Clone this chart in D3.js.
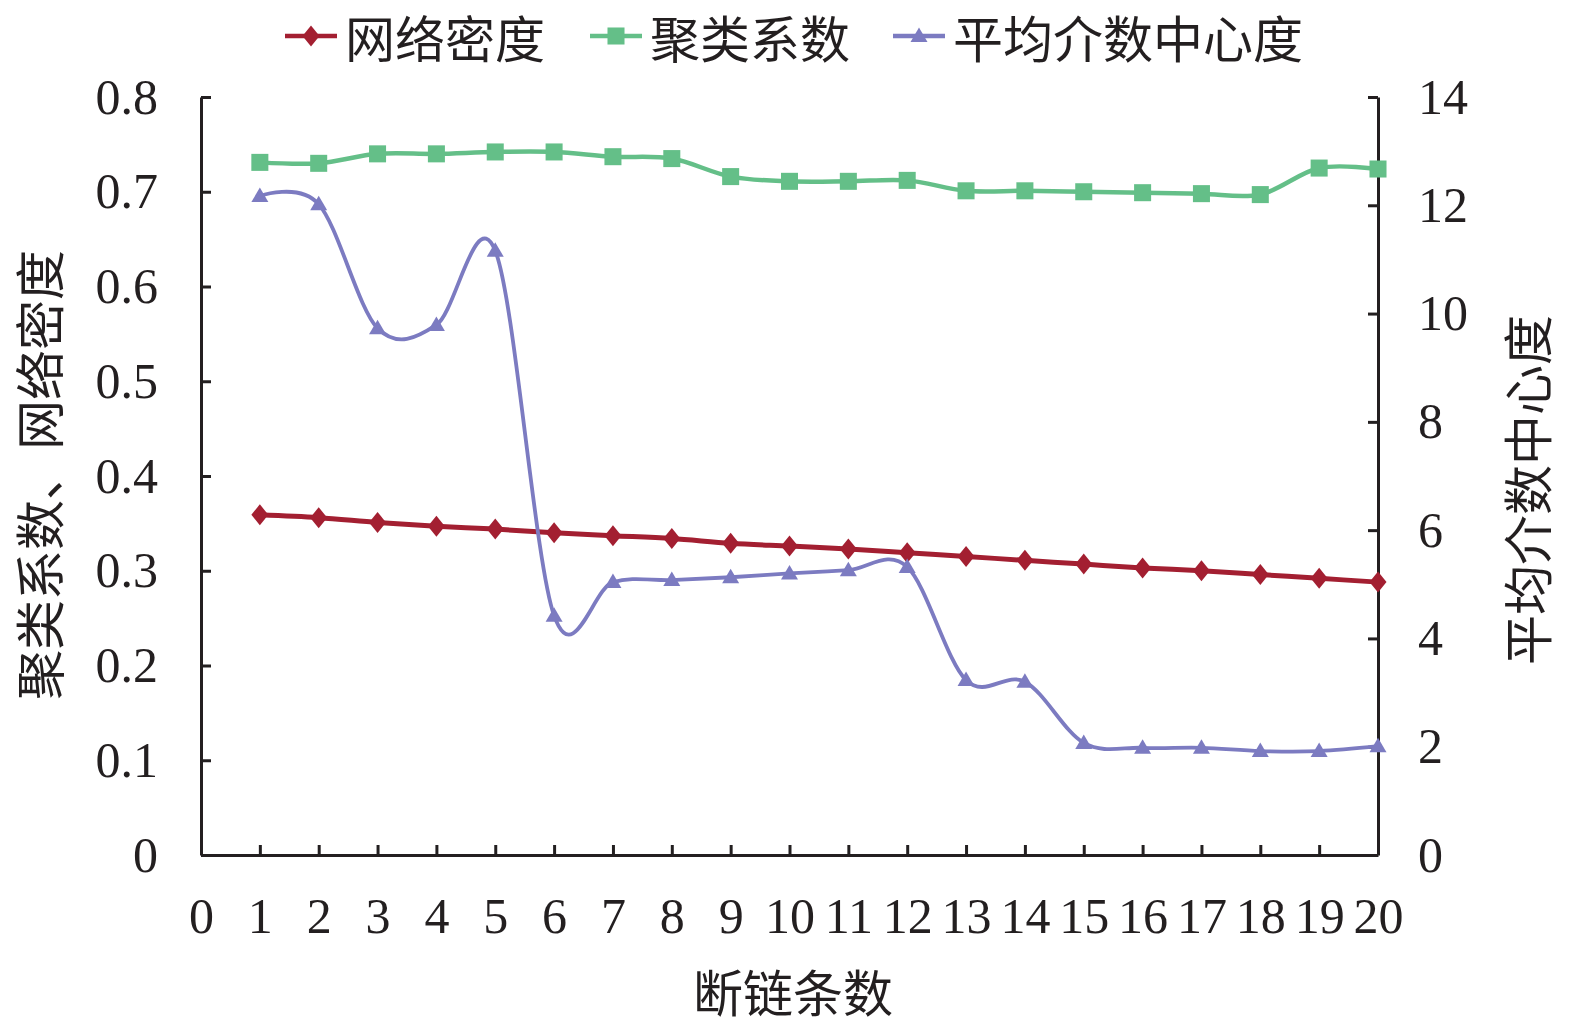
<!DOCTYPE html>
<html><head><meta charset="utf-8">
<script src="https://cdn.jsdelivr.net/npm/d3@7"></script>
<style>
body{margin:0;background:#fff;}
text{font-family:"Liberation Serif","Times New Roman","Noto Sans CJK SC",serif;fill:#231f20;}
.cjk{font-family:"Noto Sans CJK SC",sans-serif;}
</style></head>
<body>
<svg id="c" width="1575" height="1025"></svg>
<script>
const xValues = [1,2,3,4,5,6,7,8,9,10,11,12,13,14,15,16,17,18,19,20];
const density = [0.359,0.356,0.351,0.347,0.344,0.340,0.337,0.334,0.329,0.326,0.323,0.319,0.315,0.311,0.307,0.303,0.300,0.296,0.292,0.288];
const clustering = [0.731,0.730,0.740,0.740,0.742,0.742,0.737,0.735,0.716,0.711,0.711,0.712,0.701,0.701,0.700,0.699,0.698,0.697,0.725,0.724];
const betweenness = [12.17,12.02,9.73,9.79,11.16,4.42,5.04,5.08,5.13,5.20,5.26,5.32,3.23,3.20,2.07,1.98,1.98,1.92,1.92,2.01];
const xTicks = d3.range(0,21);
const leftTicks = [0,0.1,0.2,0.3,0.4,0.5,0.6,0.7,0.8];
const rightTicks = [0,2,4,6,8,10,12,14];
const seriesNames = ["网络密度","聚类系数","平均介数中心度"];
const colors = ["#a31f31","#64bf88","#7c7bc1"];

const svg = d3.select("#c");
const L=201, R=1378, T=97, B=855;
const x = d3.scaleLinear().domain([0,20]).range([L,R]);
const yL = d3.scaleLinear().domain([0,0.8]).range([B,T]);
const yR = d3.scaleLinear().domain([0,14]).range([B,T]);
const fs = 50;

function styleAxis(g){
  g.select(".domain").attr("stroke","#231f20").attr("stroke-width",3);
  g.selectAll(".tick line").attr("stroke","#231f20").attr("stroke-width",3);
  g.selectAll(".tick text").attr("font-size",fs).attr("fill","#231f20")
   .attr("font-family","Liberation Serif, Times New Roman, serif");
}

const gl = svg.append("g").attr("transform",`translate(${L},0)`)
  .call(d3.axisLeft(yL).tickValues(leftTicks).tickFormat(d=>d===0?"0":d3.format(".1f")(d))
    .tickSizeInner(-10).tickSizeOuter(0).tickPadding(43));
styleAxis(gl);
const gr = svg.append("g").attr("transform",`translate(${R},0)`)
  .call(d3.axisRight(yR).tickValues(rightTicks).tickFormat(d3.format("d"))
    .tickSizeInner(-10).tickSizeOuter(0).tickPadding(40));
styleAxis(gr);
const gb = svg.append("g").attr("transform",`translate(0,${B})`)
  .call(d3.axisBottom(x).tickValues(xTicks).tickFormat(d3.format("d"))
    .tickSizeInner(-10).tickSizeOuter(0).tickPadding(42));
styleAxis(gb);
gb.selectAll(".tick").filter(d=>d===0).select("line").remove();

const curve = d3.curveCardinal.tension(0);
const dia = "M0,-10.5L8.5,0L0,10.5L-8.5,0Z";
const sq = d3.symbol().type(d3.symbolSquare).size(290);
const tri = "M0,-8.5L8.5,6L-8.5,6Z";

function drawSeries(vals, yScale, color, sym, w){
  const data = xValues.map((v,i)=>[v,vals[i]]);
  svg.append("path").datum(data)
    .attr("fill","none").attr("stroke",color).attr("stroke-width",w)
    .attr("d", d3.line().x(d=>x(d[0])).y(d=>yScale(d[1])).curve(curve));
  svg.append("g").selectAll("path").data(data).join("path")
    .attr("transform",d=>`translate(${x(d[0])},${yScale(d[1])})`)
    .attr("d",sym).attr("fill",color);
}
drawSeries(density, yL, colors[0], dia, 5);
drawSeries(clustering, yL, colors[1], sq, 4.5);
drawSeries(betweenness, yR, colors[2], tri, 3.8);

svg.append("text").attr("class","cjk").attr("transform","translate(37,475) rotate(-90)")
  .attr("text-anchor","middle").attr("dominant-baseline","central").attr("font-size",fs)
  .text("聚类系数、网络密度");
svg.append("text").attr("class","cjk").attr("transform","translate(1525,490) rotate(-90)")
  .attr("text-anchor","middle").attr("dominant-baseline","central").attr("font-size",fs)
  .text("平均介数中心度");
svg.append("text").attr("class","cjk").attr("x",793).attr("y",990)
  .attr("text-anchor","middle").attr("dominant-baseline","central").attr("font-size",fs)
  .text("断链条数");

const legX = [285,590,893];
const syms = [dia,sq,tri];
seriesNames.forEach((n,i)=>{
  const g = svg.append("g").attr("transform",`translate(${legX[i]},36)`);
  g.append("line").attr("x1",0).attr("x2",52).attr("y1",0).attr("y2",0)
    .attr("stroke",colors[i]).attr("stroke-width",4.5);
  g.append("path").attr("transform","translate(26,0)").attr("d",syms[i]).attr("fill",colors[i]);
  g.append("text").attr("class","cjk").attr("x",60).attr("y",0)
    .attr("dominant-baseline","central").attr("font-size",fs).text(n);
});
</script>
</body></html>
